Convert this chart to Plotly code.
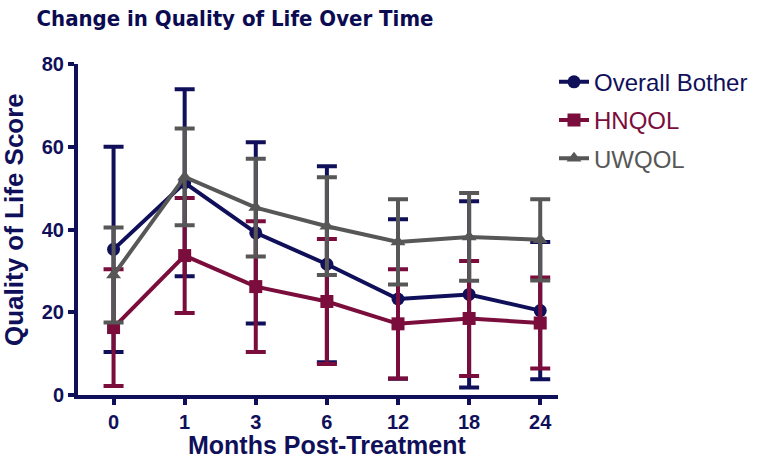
import plotly.graph_objects as go

months = ["0", "1", "3", "6", "12", "18", "24"]
xpos = list(range(len(months)))

bother_mean = [35.2, 51.3, 39.2, 31.6, 23.2, 24.3, 20.4]
bother_err = [24.8, 22.6, 21.9, 23.7, 19.3, 22.5, 16.6]

hnqol_mean = [16.3, 33.7, 26.2, 22.6, 17.2, 18.5, 17.4]
hnqol_err = [14.1, 13.9, 15.8, 15.1, 13.2, 13.9, 11.0]

uwqol_mean = [29.0, 52.7, 45.3, 40.8, 37.0, 38.2, 37.5]
uwqol_err = [11.5, 11.7, 11.8, 11.8, 10.3, 10.6, 9.8]

NAVY = "#10105a"
MAROON = "#7b0d3c"
GRAY = "#575757"

series = [
    ("Overall Bother", bother_mean, bother_err, NAVY, "circle"),
    ("HNQOL", hnqol_mean, hnqol_err, MAROON, "square"),
    ("UWQOL", uwqol_mean, uwqol_err, GRAY, "triangle-up"),
]

fig = go.Figure()
for i, (name, m, e, col, sym) in enumerate(series):
    fig.add_trace(go.Scatter(
        x=xpos, y=m, mode="lines+markers",
        name=f"<span style='color:{col}'>{name}</span>",
        legendgroup=f"g{i}",
        line=dict(color=col, width=4),
        marker=dict(symbol=sym, size=13, color=col),
        error_y=dict(type="data", array=e, visible=True, color=col, thickness=4, width=10),
    ))

FONT = "Liberation Sans, Arial, sans-serif"
axis_font = dict(family=FONT, size=20, color=NAVY)
PL, PR, PT, PB = 78, 558, 64, 395
PW, PH = PR - PL, PB - PT
fig.update_layout(
    width=762, height=461,
    margin=dict(l=PL, r=762 - PR, t=PT, b=461 - PB, autoexpand=False),
    plot_bgcolor="white", paper_bgcolor="white",
    title=dict(text="<b>Change in Quality of Life Over Time</b>",
               font=dict(family="Liberation Sans Narrow, Arial Narrow, DejaVu Sans Condensed, " + FONT, size=22, color="#0b0b52"),
               x=235 / 762, xanchor="center", y=1 - 18 / 461, yanchor="middle"),
    legend=dict(x=(554 - PL) / PW, y=1.013, xanchor="left", yanchor="top",
                font=dict(family=FONT, size=24, color=NAVY),
                itemwidth=30, tracegroupgap=4, bgcolor="rgba(0,0,0,0)"),
    showlegend=True,
    annotations=[
        dict(text="<b>Quality of Life Score</b>", textangle=-90,
             xref="paper", yref="paper", x=(14 - PL) / PW, y=(PB - 220) / PH,
             xanchor="center", yanchor="middle", showarrow=False,
             font=dict(family=FONT, size=26, color=NAVY)),
        dict(text="<b>Months Post-Treatment</b>",
             xref="paper", yref="paper", x=(327 - PL) / PW, y=(PB - 445) / PH,
             xanchor="center", yanchor="middle", showarrow=False,
             font=dict(family=FONT, size=25, color=NAVY)),
    ],
)
fig.update_xaxes(
    range=[-0.50, 6.25], tickmode="array", tickvals=xpos, ticktext=[f"<b>{m}</b>" for m in months],
    showline=True, linecolor=NAVY, linewidth=4, ticks="outside", tickcolor=NAVY, tickwidth=4, ticklen=6,
    showgrid=False, zeroline=False, tickfont=axis_font, automargin=False,
)
fig.update_yaxes(
    range=[0, 80], tickvals=[0, 20, 40, 60, 80], ticktext=["<b>0</b>", "<b>20</b>", "<b>40</b>", "<b>60</b>", "<b>80</b>"],
    showline=True, linecolor=NAVY, linewidth=4, ticks="outside", tickcolor=NAVY, tickwidth=4, ticklen=6,
    showgrid=False, zeroline=False, tickfont=axis_font, automargin=False,
)
fig.write_html("out.html", post_script="document.body.style.margin='0px';",
               config={"displayModeBar": False})
